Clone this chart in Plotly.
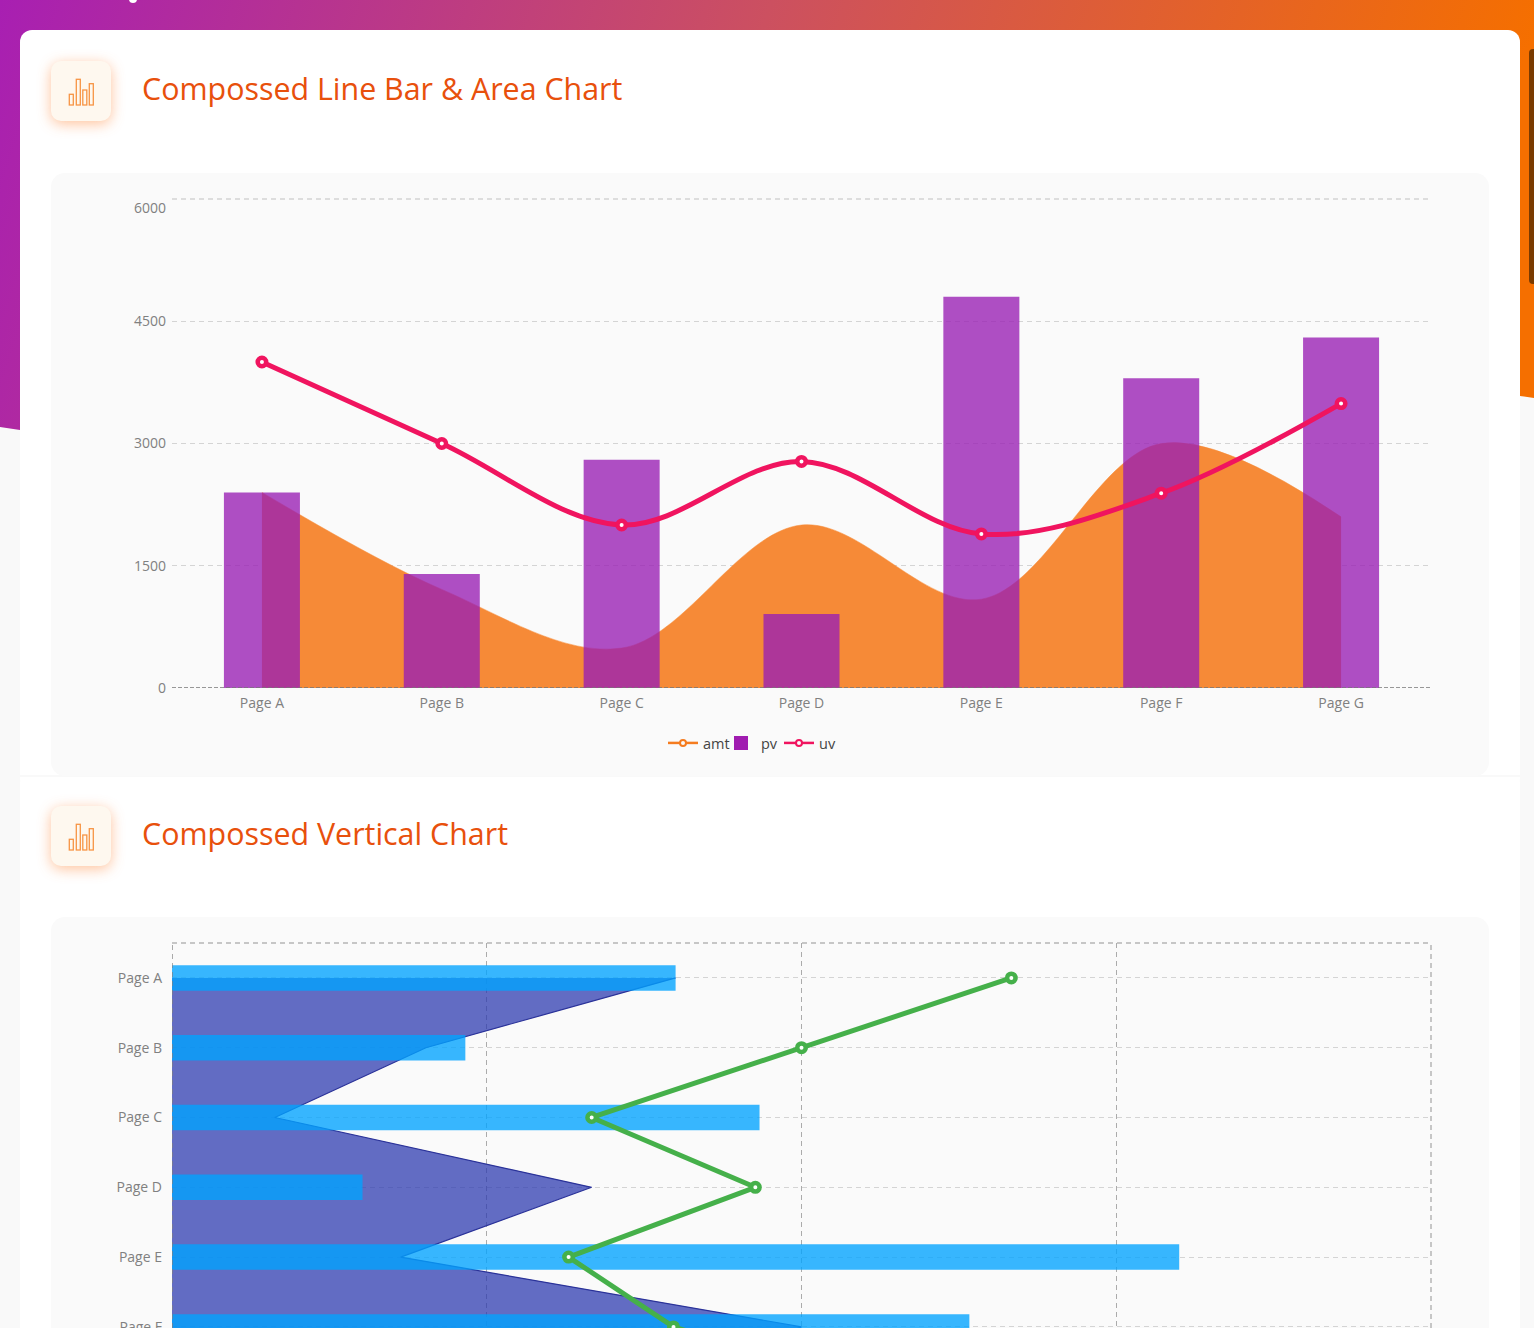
import base64
import plotly.graph_objects as go

W, H = 1534, 1328

categories = ["Page A", "Page B", "Page C", "Page D", "Page E", "Page F", "Page G"]
uv = [4000, 3000, 2000, 2780, 1890, 2390, 3490]
pv = [2400, 1398, 2800, 908, 4800, 3800, 4300]
amt = [2400, 1210, 490, 2000, 1090, 3000, 2100]
value_ticks = [0, 1500, 3000, 4500, 6000]
value_tick_labels_top = ["0", "1500", "3000", "4500", ""]

TITLE_A = "Compossed Line Bar &amp; Area Chart"
TITLE_B = "Compossed Vertical Chart"

ORANGE_FILL = "#f68a37"
ORANGE_LINE = "#f57c1f"
PURPLE = "rgba(154,32,180,0.79)"
PURPLE_SOLID = "#a01cb0"
PINK = "#f0145f"
GREEN = "#45b04a"
NAVY_FILL = "rgba(44,58,175,0.74)"
NAVY_LINE = "#2a3299"
BLUE = "rgba(0,163,255,0.78)"
GRID = "#d4d4d4"
VGRID = "#ababab"
TICK = "#808080"
FONT = "Open Sans"
DASH = "5px,4px"


def icon(y):
    bars = [(69.3, 94.3, 4, 10.7), (76.3, 79.3, 4, 25.7), (82.8, 90, 4, 15), (89.3, 83.7, 4, 21.3)]
    out = (f'<rect x="51" y="{y + 3}" width="60" height="60" rx="10" fill="#ffb88a" filter="url(#blur)" opacity="0.85"/>'
           f'<rect x="51" y="{y}" width="60" height="60" rx="10" fill="#fef8ef"/>')
    for bx, by, bw, bh in bars:
        out += (f'<rect x="{bx}" y="{by + y - 61}" width="{bw}" height="{bh}" fill="none" '
                f'stroke="#f79444" stroke-width="1.3"/>')
    return out


svg = f'''<svg xmlns="http://www.w3.org/2000/svg" width="{W}" height="{H}" viewBox="0 0 {W} {H}">
<defs>
<linearGradient id="g" gradientUnits="userSpaceOnUse" x1="0" y1="0" x2="1400" y2="450">
<stop offset="0" stop-color="#a81fb2"/><stop offset="0.5" stop-color="#cc5060"/><stop offset="1" stop-color="#f56f00"/>
</linearGradient>
<filter id="blur" x="-40%" y="-40%" width="180%" height="180%"><feGaussianBlur stdDeviation="7"/></filter>
</defs>
<rect width="{W}" height="{H}" fill="#f9f9f9"/>
<path d="M0 0H{W}V398L1520 396L20 430L0 427Z" fill="url(#g)"/>
<circle cx="133" cy="-1" r="4" fill="#ffffff"/>
<rect x="1529" y="49" width="10" height="235" rx="4" fill="#7a3a00"/>
<rect x="20" y="30" width="1500" height="760" rx="12" fill="#ffffff"/>
<rect x="0" y="775" width="{W}" height="2" fill="#f9f9f9"/>
<rect x="20" y="777" width="1500" height="600" rx="6" fill="#ffffff"/>
<rect x="51" y="173" width="1438" height="603" rx="14" fill="#fafafa"/>
<rect x="51" y="917" width="1438" height="460" rx="14" fill="#fafafa"/>
{icon(61)}{icon(806)}
</svg>'''
bg = "data:image/svg+xml;base64," + base64.b64encode(svg.encode()).decode()

x_dom = [172 / W, 1431 / W]
y_dom_a = [1 - 688 / H, 1 - 199 / H]
y_dom_b = [0, 1 - 943 / H]
range_b = [5.016, -0.5]

fig = go.Figure()

# Legend-only entries (the legend glyphs are smaller than the marks in the plot)
fig.add_trace(go.Scatter(x=[None], y=[None], name="amt", mode="lines+markers", xaxis="x", yaxis="y",
                         line=dict(color=ORANGE_LINE, width=2.5),
                         marker=dict(size=6, color="#fafafa", line=dict(color=ORANGE_LINE, width=2))))
fig.add_trace(go.Bar(x=[None], y=[None], name="pv", xaxis="x3", yaxis="y3",
                     marker=dict(color=PURPLE_SOLID, line=dict(color=PURPLE_SOLID, width=2))))
fig.add_trace(go.Scatter(x=[None], y=[None], name="uv", mode="lines+markers", xaxis="x3", yaxis="y3",
                         line=dict(color=PINK, width=2.5),
                         marker=dict(size=6, color="#fafafa", line=dict(color=PINK, width=2))))

# Top chart: area on base axes, bars + line on overlay so bars sit above the area
fig.add_trace(go.Scatter(x=categories, y=amt, name="amt", showlegend=False, mode="lines", fill="tozeroy",
                         fillcolor=ORANGE_FILL, xaxis="x", yaxis="y",
                         line=dict(color=ORANGE_FILL, width=0.5, shape="spline", smoothing=1.0)))
fig.add_trace(go.Bar(x=categories, y=pv, name="pv", showlegend=False, width=0.4226, xaxis="x3", yaxis="y3",
                     marker=dict(color=PURPLE, line=dict(width=0))))
fig.add_trace(go.Scatter(x=categories, y=uv, name="uv", showlegend=False, mode="lines+markers",
                         xaxis="x3", yaxis="y3",
                         line=dict(color=PINK, width=5, shape="spline", smoothing=1.0),
                         marker=dict(size=8.5, color="#ffffff", line=dict(color=PINK, width=4.5))))

# Bottom chart
fig.add_trace(go.Scatter(y=categories, x=amt, name="amt", showlegend=False, mode="lines", fill="tozerox",
                         fillcolor=NAVY_FILL, xaxis="x2", yaxis="y2",
                         line=dict(color=NAVY_LINE, width=1.2)))
fig.add_trace(go.Bar(y=categories, x=pv, name="pv", showlegend=False, orientation="h", width=0.365,
                     xaxis="x4", yaxis="y4", marker=dict(color=BLUE, line=dict(width=0))))
fig.add_trace(go.Scatter(y=categories, x=uv, name="uv", showlegend=False, mode="lines+markers",
                         xaxis="x4", yaxis="y4", line=dict(color=GREEN, width=5),
                         marker=dict(size=8.5, color="#ffffff", line=dict(color=GREEN, width=4.5))))

tick_font = dict(family=FONT, size=14, color=TICK)
cat_common = dict(type="category", categoryorder="array", categoryarray=categories, ticks="", tickfont=tick_font)

fig.update_layout(
    width=W, height=H, autosize=False,
    margin=dict(l=0, r=0, t=0, b=0, pad=0, autoexpand=False),
    paper_bgcolor="#f9f9f9", plot_bgcolor="rgba(0,0,0,0)",
    barmode="overlay",
    font=dict(family=FONT),
    showlegend=True,
    legend=dict(orientation="h", x=750 / W, xanchor="center", y=1 - 743 / H, yanchor="middle",
                bgcolor="rgba(0,0,0,0)", font=dict(family=FONT, size=14.5, color="#444444"),
                itemwidth=30, traceorder="normal", entrywidth=13, entrywidthmode="pixels"),
    images=[dict(source=bg, xref="paper", yref="paper", x=0, y=1, sizex=1, sizey=1,
                 xanchor="left", yanchor="top", sizing="stretch", layer="below")],
    xaxis=dict(domain=x_dom, range=[-0.5, 6.5], showgrid=False, zeroline=False, ticklabelstandoff=5, **cat_common),
    yaxis=dict(domain=y_dom_a, range=[0, 6000], tickmode="array", tickvals=value_ticks,
               ticktext=value_tick_labels_top, tickfont=tick_font, ticks="", showgrid=True,
               gridcolor=GRID, griddash=DASH, gridwidth=1.3, zeroline=False, ticklabelstandoff=5),
    xaxis3=dict(domain=x_dom, range=[-0.5, 6.5], overlaying="x", visible=False, type="category",
                categoryorder="array", categoryarray=categories),
    yaxis3=dict(domain=y_dom_a, range=[0, 6000], overlaying="y", visible=False),
    xaxis2=dict(domain=x_dom, range=[0, 6000], anchor="y2", tickmode="array", tickvals=value_ticks,
                showticklabels=False, ticks="", showgrid=True, gridcolor=VGRID, griddash=DASH,
                gridwidth=1.3, zeroline=False),
    yaxis2=dict(domain=y_dom_b, range=range_b, anchor="x2", showgrid=True, gridcolor=GRID, griddash=DASH,
                gridwidth=1.3, zeroline=False, ticklabelstandoff=9, **cat_common),
    xaxis4=dict(domain=x_dom, range=[0, 6000], overlaying="x2", visible=False),
    yaxis4=dict(domain=y_dom_b, range=range_b, overlaying="y2", visible=False, type="category",
                categoryorder="array", categoryarray=categories),
    shapes=[
        dict(type="line", xref="x domain", yref="y", x0=0, x1=1, y0=0, y1=0,
             line=dict(color="#777777", width=1.3, dash="4px,2px"), layer="above"),
        dict(type="line", xref="x domain", yref="y domain", x0=0, x1=1, y0=1, y1=1,
             line=dict(color=GRID, width=1.3, dash=DASH), layer="below"),
        dict(type="line", xref="x2", yref="y2 domain", x0=0, x1=0, y0=0, y1=1,
             line=dict(color="#808080", width=1.3, dash=DASH), layer="above"),
        dict(type="line", xref="x2 domain", yref="y2 domain", x0=1, x1=1, y0=0, y1=1,
             line=dict(color=VGRID, width=1.3, dash=DASH), layer="below"),
        dict(type="line", xref="x2 domain", yref="y2 domain", x0=0, x1=1, y0=1, y1=1,
             line=dict(color="#b5b5b5", width=1.3, dash=DASH), layer="above"),
    ],
    annotations=[
        dict(text=TITLE_A, xref="paper", yref="paper", x=140 / W, y=1 - 88 / H, xanchor="left", yanchor="middle",
             showarrow=False, font=dict(family=FONT, size=30.4, color="#e8500c")),
        dict(text=TITLE_B, xref="paper", yref="paper", x=140 / W, y=1 - 833 / H, xanchor="left", yanchor="middle",
             showarrow=False, font=dict(family=FONT, size=30.4, color="#e8500c")),
        dict(text="6000", xref="paper", yref="paper", x=168 / W, y=1 - 207 / H, xanchor="right", yanchor="middle",
             showarrow=False, font=tick_font),
    ],
)

fig.write_html("out.html", config=dict(displayModeBar=False),
               post_script="document.body.style.margin='0';document.body.style.overflow='hidden';")
